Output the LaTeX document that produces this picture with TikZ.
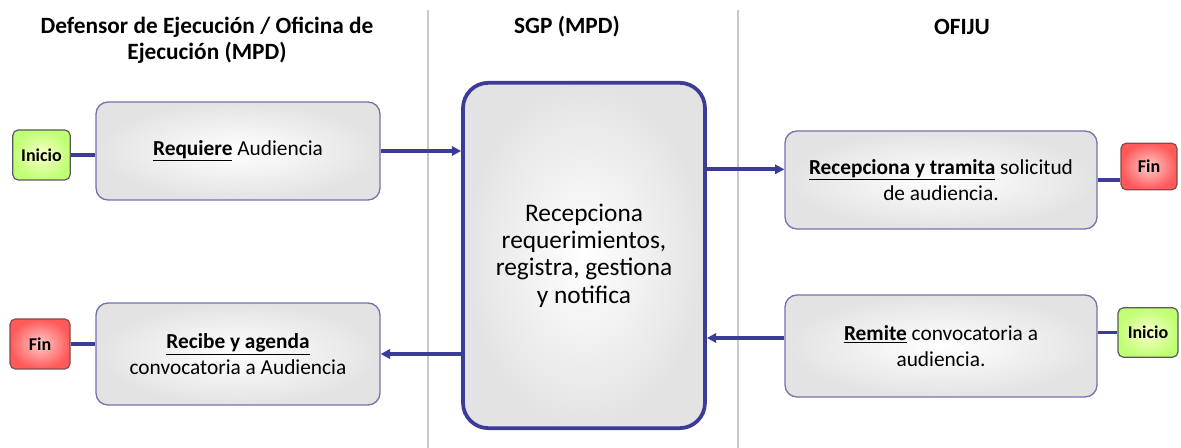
\documentclass[tikz,border=0pt]{standalone}
\usepackage{fontspec}
\setmainfont{Carlito}
\usetikzlibrary{positioning,arrows.meta}

\definecolor{linea}{HTML}{3B3B98}
\definecolor{borde}{HTML}{7272AC}
\definecolor{sep}{HTML}{C8C8C8}

\tikzset{
  paso/.style={draw=borde, line width=1pt, rounded corners=9pt,
    shading=radial, inner color=white, outer color=gray!22,
    align=center, font=\fontsize{16}{19.5}\selectfont},
  inicio/.style={draw=black!65, line width=0.9pt, rounded corners=4pt,
    shading=radial, inner color=green!10!yellow!20, outer color=green!45!yellow!55,
    font=\bfseries\fontsize{13.5}{15}\selectfont},
  fin/.style={draw=red!30!black!70, line width=0.9pt, rounded corners=4pt,
    shading=radial, inner color=red!20, outer color=red!65,
    font=\bfseries\fontsize{13.5}{15}\selectfont},
  flecha/.style={draw=linea, line width=2.8pt, -{Triangle[length=7pt,width=7pt]}},
  enlace/.style={draw=linea, line width=2.8pt},
  titulo/.style={font=\bfseries\fontsize{17.5}{19.5}\selectfont, align=center},
}

\begin{document}
\begin{tikzpicture}[x=0.75pt, y=-0.75pt]
\useasboundingbox (0,0) rectangle (1181,448);

% carriles
\draw[sep, line width=0.8pt] (428,10) -- (428,448);
\draw[sep, line width=0.8pt] (738,10) -- (738,448);

\node[titulo] (tdef) at (207,40) {Defensor de Ejecución / Oficina de\\Ejecución (MPD)};
\node[titulo] (tsgp) at (567,27) {SGP (MPD)};
\node[titulo] (tofi) at (962,27) {OFIJU};

% cajas
\node[paso, minimum width=213pt, minimum height=73.5pt] (req) at (238,151)
  {\underline{\textbf{Requiere}} Audiencia};
\node[paso, minimum width=213pt, minimum height=76.5pt] (recibe) at (238,354)
  {\underline{\textbf{Recibe y agenda}}\\convocatoria a Audiencia};
\node[paso, minimum width=181.5pt, minimum height=259pt, draw=linea,
  line width=2.8pt, rounded corners=19pt, font=\fontsize{19}{20.5}\selectfont] (sgp) at (584,255.5)
  {Recepciona\\requerimientos,\\registra, gestiona\\y notifica};
\node[paso, minimum width=234pt, minimum height=73.5pt] (recep) at (941,180)
  {\underline{\textbf{Recepciona y tramita}} solicitud\\de audiencia.};
\node[paso, minimum width=234pt, minimum height=76.5pt] (remite) at (941,346)
  {\underline{\textbf{Remite}} convocatoria a\\audiencia.};

\node[inicio, minimum width=43pt, minimum height=37.5pt] (iniA) at (41.5,155) {Inicio};
\node[fin, minimum width=45pt, minimum height=37.5pt] (finA) at (40,344) {Fin};
\node[fin, minimum width=42pt, minimum height=35pt] (finB) at (1149,166.5) {Fin};
\node[inicio, minimum width=45pt, minimum height=37pt] (iniB) at (1148,332.5) {Inicio};

% conectores
\coordinate (p1) at ([yshift=8pt]recep.west);
\coordinate (p2) at ([yshift=6pt]remite.west);

\draw[enlace] (iniA.east) -- (iniA.east -| req.west);
\draw[flecha] (req.east) -- (req.east -| sgp.west);
\draw[flecha] (p1 -| sgp.east) -- (p1);
\draw[enlace] (recep.east) -- (recep.east -| finB.west);
\draw[enlace] (iniB.west -| remite.east) -- (iniB.west);
\draw[flecha] (p2) -- (p2 -| sgp.east);
\draw[flecha] (sgp.west |- recibe.east) -- (recibe.east);
\draw[enlace] (finA.east) -- (finA.east -| recibe.west);

\end{tikzpicture}
\end{document}
